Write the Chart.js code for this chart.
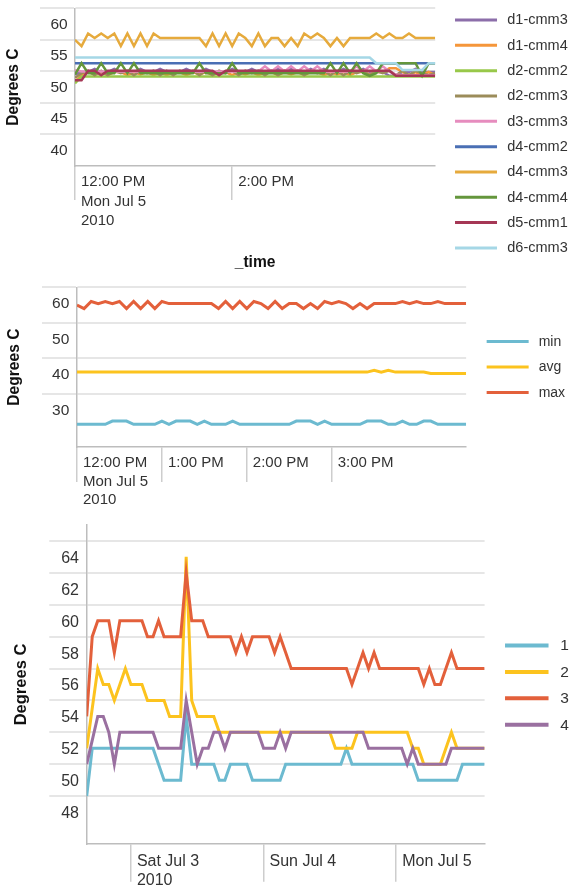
<!DOCTYPE html>
<html><head><meta charset="utf-8">
<script src="https://cdn.jsdelivr.net/npm/chart.js@4/dist/chart.umd.min.js"></script>
<style>
html,body{margin:0;padding:0;background:#fff;overflow:hidden;width:569px;height:890px;}
canvas{position:absolute;left:0;}
#c1{top:0px;} #c2{top:270px;} #c3{top:510px;}
</style></head><body>
<canvas id="c1" width="569" height="270" style="width:569px;height:270px"></canvas>
<canvas id="c2" width="569" height="240" style="width:569px;height:240px"></canvas>
<canvas id="c3" width="569" height="380" style="width:569px;height:380px"></canvas>
<script>
// ---------------- Panel 1 data (5-minute samples, Mon Jul 5 2010, from 12:00 PM) ----------------
const p1Names = ['d1-cmm3','d1-cmm4','d2-cmm2','d2-cmm3','d3-cmm3','d4-cmm2','d4-cmm3','d4-cmm4','d5-cmm1','d6-cmm3'];
const p1Colors = ['#8c6eaa','#f5963a','#98c84a','#9b8c5a','#e68cbe','#4a6fb4','#e6aa3c','#64963c','#a53755','#a5d7e6'];
const p1D1cmm3 = [52.0,52.4,52.4,52.9,52.4,52.4,52.9,52.4,52.4,52.4,
 52.9,52.4,52.4,52.9,52.4,52.4,52.4,52.9,52.4,52.4,
 52.9,52.4,52.4,52.4,52.9,52.4,52.4,52.9,52.4,52.4,
 52.4,52.9,52.4,52.9,52.4,52.4,52.9,52.4,52.9,52.4,
 52.4,52.9,52.4,52.4,52.9,52.4,52.4,52.4,51.8,51.8,
 52.4,52.4,52.9,52.4,52.4,52.4];
const p1D1cmm4 = [50.9,51.9,52.4,52.0,52.4,51.9,52.4,52.4,51.9,52.4,
 52.0,52.4,51.9,52.4,51.9,52.4,52.4,51.9,52.4,52.0,
 52.4,51.9,52.4,52.4,51.9,52.4,52.0,52.4,51.9,52.4,
 52.4,51.9,52.4,52.0,52.4,51.9,52.4,52.4,51.9,52.4,
 52.0,52.4,51.9,52.4,52.4,52.0,52.4,52.4,53.0,53.0,
 52.4,51.9,52.4,51.9,52.4,51.9];
const p1D2cmm2 = [50.6,51.7,51.7,51.7,51.7,51.7,51.7,51.7,51.7,51.7,
 51.7,51.7,51.7,51.7,51.7,51.7,51.7,51.7,51.7,51.7,
 51.7,51.7,51.7,51.7,51.7,51.7,51.7,51.7,51.7,51.7,
 51.7,51.7,51.7,51.7,51.7,51.7,51.7,51.7,51.7,51.7,
 51.7,51.7,51.7,51.7,51.7,51.7,51.7,51.7,51.7,51.7,
 51.7,51.7,51.7,51.7,51.7,51.7];
const p1D2cmm3 = [51.5,52.2,52.6,51.9,52.6,51.9,52.6,52.2,52.6,51.9,
 52.6,52.2,52.6,51.9,52.6,51.9,52.6,52.2,52.6,51.9,
 52.6,51.9,52.6,52.2,52.6,51.9,52.6,52.2,52.6,51.9,
 52.6,51.9,52.6,52.2,52.6,51.9,52.6,52.2,52.6,51.9,
 52.6,51.9,52.6,52.2,52.6,51.9,52.6,52.2,52.6,51.9,
 52.6,51.9,52.6,52.2,51.9,52.2];
const p1D3cmm3 = [52.7,52.5,52.5,52.5,52.5,52.5,52.5,52.5,52.5,52.5,
 52.5,52.5,52.5,52.5,52.5,52.5,52.5,52.5,52.5,52.5,
 52.5,52.5,52.5,52.5,52.5,52.5,52.5,52.5,52.5,53.3,
 52.5,53.3,52.5,53.3,52.5,53.3,52.5,53.3,52.5,52.5,
 52.5,52.5,52.5,53.3,52.5,53.3,52.5,53.3,52.5,52.0,
 51.9,51.9,51.9,51.9,51.9,51.9];
const p1D4cmm2 = [53.8,53.8,53.8,53.8,53.8,53.8,53.8,53.8,53.8,53.8,
 53.8,53.8,53.8,53.8,53.8,53.8,53.8,53.8,53.8,53.8,
 53.8,53.8,53.8,53.8,53.8,53.8,53.8,53.8,53.8,53.8,
 53.8,53.8,53.8,53.8,53.8,53.8,53.8,53.8,53.8,53.8,
 53.8,53.8,53.8,53.8,53.8,53.8,53.8,53.8,53.8,53.8,
 53.8,53.8,53.8,53.8,53.8,53.8];
const p1D4cmm3 = [57.5,56.5,58.5,57.8,58.5,57.8,58.5,56.5,58.5,56.5,
 58.5,56.5,58.5,57.8,57.8,57.8,57.8,57.8,57.8,57.8,
 56.5,58.5,56.5,58.5,56.5,58.5,57.8,56.5,58.5,56.5,
 57.8,57.8,56.5,57.8,56.5,58.5,57.8,58.5,57.8,56.5,
 57.8,56.5,57.8,57.8,57.8,57.8,58.5,57.8,58.5,57.8,
 57.8,58.5,57.8,57.8,57.8,57.8];
const p1D4cmm4 = [52.0,53.8,52.2,52.2,53.8,52.2,52.2,53.8,52.2,53.8,
 52.2,52.2,52.2,52.2,52.2,52.2,52.2,52.2,52.2,53.8,
 52.2,52.2,52.2,52.2,53.8,52.2,52.2,52.2,52.2,52.2,
 52.2,52.2,52.2,52.2,52.2,52.2,52.2,52.2,52.2,53.8,
 52.2,53.8,52.2,53.8,52.2,51.8,52.2,53.8,53.8,53.8,
 53.8,53.8,53.8,51.8,53.8,53.8];
const p1D5cmm1 = [51.1,51.1,52.6,52.6,51.9,52.6,52.6,52.6,52.6,52.6,
 52.6,52.6,52.6,52.6,52.6,52.6,52.6,52.6,52.6,52.6,
 52.6,52.6,51.9,52.6,52.6,52.6,52.6,52.6,52.6,52.6,
 52.6,52.6,52.6,52.6,52.6,52.6,52.6,52.6,52.6,52.6,
 52.6,52.6,52.6,52.6,52.6,52.6,52.6,52.6,52.6,51.8,
 51.8,51.8,51.8,51.8,51.8,51.8];
const p1D6cmm3 = [54.7,54.7,54.7,54.7,54.7,54.7,54.7,54.7,54.7,54.7,
 54.7,54.7,54.7,54.7,54.7,54.7,54.7,54.7,54.7,54.7,
 54.7,54.7,54.7,54.7,54.7,54.7,54.7,54.7,54.7,54.7,
 54.7,54.7,54.7,54.7,54.7,54.7,54.7,54.7,54.7,54.7,
 54.7,54.7,54.7,54.7,54.7,54.7,53.8,53.8,53.8,53.8,
 52.7,52.7,52.7,52.7,53.8,53.8];
const p1Series = [p1D1cmm3,p1D1cmm4,p1D2cmm2,p1D2cmm3,p1D3cmm3,p1D4cmm2,p1D4cmm3,p1D4cmm4,p1D5cmm1,p1D6cmm3];
const p1TickHours = [12, 14];
const p1TickText = [['12:00 PM','Mon Jul 5','2010'], ['2:00 PM']];
const p1YTicks = [40, 42.5, 45, 47.5, 50, 52.5, 55, 57.5, 60, 62.5];
const p1YLabels = [40, 45, 50, 55, 60];

// ---------------- Panel 2 data ----------------
const p2Names = ['min','avg','max'];
const p2Colors = ['#6cbad0','#fcc31e','#e3603b'];
const p2Min = [26.4,26.4,26.4,26.4,26.4,27.3,27.3,27.3,26.4,26.4,
 26.4,26.4,27.3,26.4,27.3,27.3,27.3,26.4,27.3,26.4,
 26.4,26.4,27.3,26.4,26.4,26.4,26.4,26.4,26.4,26.4,
 26.4,27.3,27.3,27.3,26.4,27.3,26.4,26.4,26.4,26.4,
 26.4,27.3,27.3,27.3,26.4,26.4,27.3,26.4,26.4,27.3,
 27.3,26.4,26.4,26.4,26.4,26.4];
const p2Avg = [41.1,41.1,41.1,41.1,41.1,41.1,41.1,41.1,41.1,41.1,
 41.1,41.1,41.1,41.1,41.1,41.1,41.1,41.1,41.1,41.1,
 41.1,41.1,41.1,41.1,41.1,41.1,41.1,41.1,41.1,41.1,
 41.1,41.1,41.1,41.1,41.1,41.1,41.1,41.1,41.1,41.1,
 41.1,41.1,41.6,41.1,41.6,41.1,41.1,41.1,41.1,41.1,
 40.7,40.7,40.7,40.7,40.7,40.7];
const p2Max = [60,59,61,60.4,61,60.4,61,59,61,59,
 61,59,61,60.4,60.4,60.4,60.4,60.4,60.4,60.4,
 59,61,59,61,59,61,60.4,59,61,59,
 60.4,60.4,59,60.4,59,61,60.4,61,60.4,59,
 60.4,59,60.4,60.4,60.4,60.4,61,60.4,61,60.4,
 60.4,61,60.4,60.4,60.4,60.4];
const p2Series = [p2Min, p2Avg, p2Max];
const p2TickHours = [12, 13, 14, 15];
const p2TickText = [['12:00 PM','Mon Jul 5','2010'], ['1:00 PM'], ['2:00 PM'], ['3:00 PM']];
const p2YTicks = [30, 35, 40, 45, 50, 55, 60, 65];
const p2YLabels = [30, 40, 50, 60];

// ---------------- Panel 3 data (hourly, from Fri Jul 2 16:00) ----------------
const p3Names = ['1','2','3','4'];
const p3Colors = ['#6cbad0','#fcc31e','#e3603b','#9a70a0'];
const p3S1 = [49,52,52,52,52,52,52,52,52,52,
 52,52,52,51,50,50,50,50,54,51,
 51,51,51,51,50,50,51,51,51,51,
 50,50,50,50,50,50,51,51,51,51,
 51,51,51,51,51,51,51,52,51,51,
 51,51,51,51,51,51,51,51,51,51,
 50,50,50,50,50,50,50,50,51,51,
 51,51,51];
const p3S2 = [52,54.5,57,56,56,55,56,57,56,56,
 56,55,55,55,55,54,54,54,64,55,
 54,54,54,54,53,53,53,53,53,53,
 53,53,53,53,53,53,53,53,53,53,
 53,53,53,53,53,52,52,52,52,53,
 53,53,53,53,53,53,53,53,53,52,
 52,51,51,51,51,52,53,52,52,52,
 52,52,52];
const p3S3 = [54,59,60,60,60,58,60,60,60,60,
 60,59,59,60,59,59,59,59,63,60,
 60,60,59,59,59,59,59,58,59,58,
 59,59,59,59,58,59,58,57,57,57,
 57,57,57,57,57,57,57,57,56,57,
 58,57,58,57,57,57,57,57,57,57,
 57,56,57,56,56,57,58,57,57,57,
 57,57,57];
const p3S4 = [51,52.5,54,54,53,51,53,53,53,53,
 53,53,53,52,52,52,52,52,55,53,
 51,52,52,53,53,52,53,53,53,53,
 53,53,52,52,52,53,52,53,53,53,
 53,53,53,53,53,53,53,53,53,53,
 53,52,52,52,52,52,52,52,51,52,
 51,51,51,51,51,51,52,52,52,52,
 52,52,52];
const p3Series = [p3S1, p3S2, p3S3, p3S4];
const p3TickHours = [0, 24, 48];
const p3TickText = [['Sat Jul 3','2010'], ['Sun Jul 4'], ['Mon Jul 5']];
const p3YTicks = [48,49,50,51,52,53,54,55,56,57,58,59,60,61,62,63,64,65];
const p3YLabels = [48,50,52,54,56,58,60,62,64];

// time axes (hours): 5-minute samples from 12:00 for panels 1-2, hourly from Jul 2 16:00 for panel 3
const p12Hours = Array.from({length: 56}, (_, i) => 12 + i * 5 / 60);
const p3Hours = Array.from({length: 73}, (_, i) => -8 + i);

// ---------------- styling ----------------
const FAM = "'Liberation Sans', Arial, Helvetica, sans-serif";
const GRID = '#e6e6e6', AXIS = '#bdbdbd', TICK = '#cdcdcd', TXT = '#333333', TTL = '#111111';
Chart.defaults.font.family = FAM;
Chart.defaults.color = TXT;

function makeChart(id, o) {
  return new Chart(document.getElementById(id), {
    type: 'line',
    data: {
      labels: o.x,
      datasets: o.series.map((d, i) => ({
        label: o.names[i], data: d,
        borderColor: o.colors[i], backgroundColor: o.colors[i],
        borderWidth: o.lw, pointRadius: 0, pointHoverRadius: 0, tension: 0, fill: false,
        order: o.series.length - 1 - i
      }))
    },
    options: {
      responsive: false, animation: false, devicePixelRatio: 1, events: [],
      layout: {padding: {top: 0, left: 0, right: o.padR, bottom: 0}, autoPadding: false},
      plugins: {
        tooltip: {enabled: false},
        title: {display: true, text: '', padding: 0, font: {size: o.topGap, lineHeight: 1}},
        legend: {
          position: 'right', align: 'start',
          title: {display: true, text: '', padding: 0, font: {size: o.lgTop, lineHeight: 1}},
          labels: {
            font: {size: o.lgFs, family: FAM}, color: TXT, padding: o.lgPad,
            boxWidth: o.lgBox, boxHeight: 1,
            generateLabels: ch => ch.data.datasets.map((ds, i) => ({
              text: ds.label, fillStyle: 'rgba(0,0,0,0)', strokeStyle: ds.borderColor,
              lineWidth: o.lgLw, lineDash: [0, o.lgLead, o.lgLen, 1000], lineDashOffset: 0,
              lineCap: 'butt', lineJoin: 'miter', hidden: false, datasetIndex: i, fontColor: TXT
            }))
          }
        }
      },
      scales: {
        x: {
          type: 'linear', position: 'bottom', min: o.xMin, max: o.xMax,
          afterBuildTicks: s => { s.ticks = o.xTicks.map(v => ({value: v})); },
          afterFit: s => { s.height = o.xH; },
          grid: {display: true, drawOnChartArea: false, drawTicks: true, tickLength: o.xTl,
                 color: TICK, tickColor: TICK, lineWidth: 1.5, tickWidth: 1.5},
          border: {display: true, color: AXIS, width: 1.5},
          ticks: {autoSkip: false, maxRotation: 0, minRotation: 0, align: 'start', labelOffset: 6,
                  padding: o.xPad, color: TXT, font: {size: o.xFs, lineHeight: o.xLh},
                  callback: v => o.xText[o.xTicks.indexOf(v)]},
          title: o.xTitle ? {display: true, text: o.xTitle, color: TTL,
                  font: {size: 15.6, weight: 'bold'}, padding: {top: 0, bottom: o.xTitlePad}} : {display: false}
        },
        y: {
          type: 'linear', position: 'left', min: o.yMin, max: o.yMax,
          afterBuildTicks: s => { s.ticks = o.yTicks.map(v => ({value: v})); },
          afterFit: s => { s.width = o.yW; },
          grid: {display: true, drawOnChartArea: true, drawTicks: true, tickLength: o.yTl, lineWidth: 2,
                 color: c => (c.tick && o.yLabels.includes(c.tick.value)) ? 'rgba(0,0,0,0)' : GRID},
          border: {display: true, color: AXIS, width: 1.5},
          ticks: {autoSkip: false, padding: o.yPad, labelOffset: o.yOff, color: TXT, font: {size: o.yFs},
                  callback: v => o.yLabels.includes(v) ? String(v) : ''},
          title: {display: true, text: 'Degrees C', color: TTL, font: {size: o.yTitleFs, weight: 'bold'},
                  padding: {top: o.yTitlePad, bottom: 0}}
        }
      }
    }
  });
}

makeChart('c1', {
  x: p12Hours, series: p1Series, names: p1Names, colors: p1Colors, lw: 2.5,
  padR: -8.7, topGap: 8.3,
  lgTop: 2.4, lgFs: 14.5, lgPad: 10.83, lgBox: 54, lgLead: 9, lgLen: 42, lgLw: 3,
  xMin: 12, xMax: 12 + 55 / 12, xTicks: p1TickHours, xText: p1TickText,
  xH: 104, xTl: 34, xPad: -27.85, xFs: 15, xLh: 1.31, xTitle: '_time', xTitlePad: -2.4,
  yMin: 37.5, yMax: 62.5, yTicks: p1YTicks, yLabels: p1YLabels,
  yW: 75, yTl: 35, yPad: -27.7, yOff: 0.5, yFs: 15.5, yTitleFs: 15.6, yTitlePad: 4.2
});

makeChart('c2', {
  x: p12Hours, series: p2Series, names: p2Names, colors: p2Colors, lw: 3,
  padR: -6.1, topGap: 17.3,
  lgTop: 53.5, lgFs: 14, lgPad: 11.5, lgBox: 54, lgLead: 9, lgLen: 42, lgLw: 3,
  xMin: 12, xMax: 12 + 55 / 12, xTicks: p2TickHours, xText: p2TickText,
  xH: 63, xTl: 35, xPad: -28.65, xFs: 15, xLh: 1.25, xTitle: null,
  yMin: 20, yMax: 65, yTicks: p2YTicks, yLabels: p2YLabels,
  yW: 77, yTl: 35, yPad: -27.3, yOff: -1, yFs: 15.5, yTitleFs: 15.6, yTitlePad: 5.2
});

makeChart('c3', {
  x: p3Hours, series: p3Series, names: p3Names, colors: p3Colors, lw: 3,
  padR: -9.9, topGap: 15,
  lgTop: 117.3, lgFs: 15.5, lgPad: 10.93, lgBox: 57, lgLead: 9.5, lgLen: 43.5, lgLw: 4,
  xMin: -8, xMax: 64, xTicks: p3TickHours, xText: p3TickText,
  xH: 46, xTl: 37.7, xPad: -29.5, xFs: 16, xLh: 1.19, xTitle: null,
  yMin: 46, yMax: 66, yTicks: p3YTicks, yLabels: p3YLabels,
  yW: 86.7, yTl: 37.4, yPad: -29.7, yOff: 1.5, yFs: 16, yTitleFs: 16.5, yTitlePad: 11.1
});
</script></body></html>
